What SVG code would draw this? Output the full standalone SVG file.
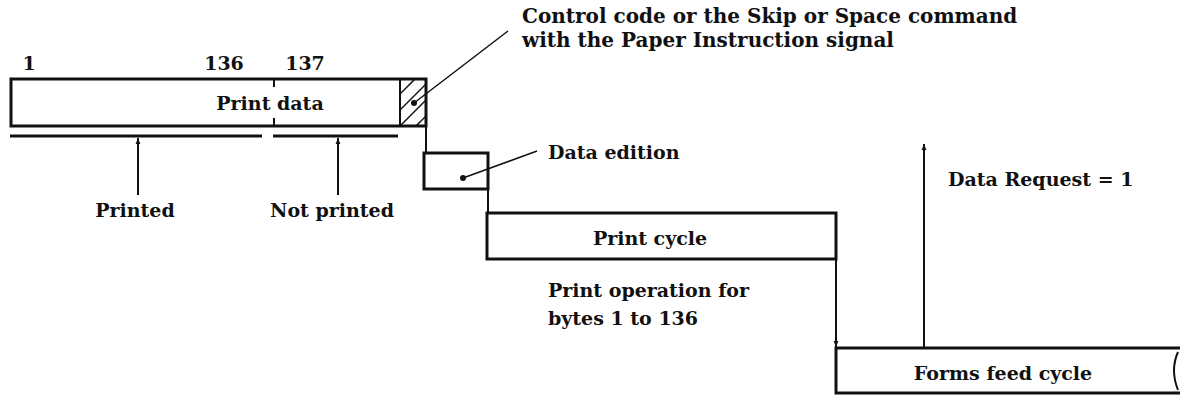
<svg xmlns="http://www.w3.org/2000/svg" width="1180" height="403" viewBox="0 0 1180 403">
<style>
text{font-family:"DejaVu Serif","Liberation Serif",serif;font-size:19px;font-weight:bold;fill:#111}
.big{font-size:20px}
.box{fill:none;stroke:#111;stroke-width:3}
.ln{fill:none;stroke:#111;stroke-width:2}
.thin{fill:none;stroke:#111;stroke-width:1.5}
.mid{text-anchor:middle}
</style>
<defs>
<marker id="ah" viewBox="0 0 10 10" refX="10" refY="5" markerWidth="9" markerHeight="6" orient="auto" markerUnits="userSpaceOnUse"><path d="M0,1 L10,5 L0,9 z" fill="#111"/></marker>
<marker id="dot" viewBox="0 0 10 10" refX="5" refY="5" markerWidth="6" markerHeight="6" markerUnits="userSpaceOnUse"><circle cx="5" cy="5" r="5" fill="#111"/></marker>
<clipPath id="hc"><rect x="400" y="79" width="26" height="47"/></clipPath>
</defs>
<g id="print-data">
<rect class="box" x="11" y="79" width="415" height="47"/>
<line class="ln" x1="274" y1="79" x2="274" y2="87"/>
<line class="ln" x1="274" y1="118" x2="274" y2="126"/>
<line class="ln" x1="400" y1="79" x2="400" y2="126"/>
<g clip-path="url(#hc)" class="thin">
<line x1="390" y1="136" x2="440" y2="86"/>
<line x1="390" y1="120" x2="440" y2="70"/>
<line x1="390" y1="104" x2="440" y2="54"/>
<line x1="390" y1="152" x2="440" y2="102"/>
</g>
<text x="29" y="70" class="mid">1</text>
<text x="224" y="70" class="mid">136</text>
<text x="305" y="70" class="mid">137</text>
<text x="270" y="110" class="mid">Print data</text>
</g>
<g id="data-edition">
<rect class="box" x="424" y="153" width="64" height="36"/>
</g>
<g id="print-cycle">
<rect class="box" x="487" y="213" width="349" height="46"/>
<text x="650" y="245" class="mid">Print cycle</text>
</g>
<g id="forms-feed">
<path class="box" d="M1180,348 H836 V393 H1180"/>
<path class="ln" d="M1178,352 Q1170,370 1178,390"/>
<text x="1003" y="380" class="mid">Forms feed cycle</text>
</g>
<g id="labels">
<text x="522" y="23" class="big">Control code or the Skip or Space command</text>
<text x="522" y="47" class="big">with the Paper Instruction signal</text>
<text x="548" y="159">Data edition</text>
<text x="135" y="217" class="mid">Printed</text>
<text x="332" y="217" class="mid">Not printed</text>
<text x="548" y="297">Print operation for</text>
<text x="548" y="325">bytes 1 to 136</text>
<text x="948" y="186">Data Request = 1</text>
</g>
<g id="connectors">
<line class="box" x1="10" y1="136" x2="262" y2="136"/>
<line class="box" x1="273" y1="136" x2="398" y2="136"/>
<line class="ln" x1="138" y1="195" x2="138" y2="138" marker-end="url(#ah)"/>
<line class="ln" x1="338" y1="195" x2="338" y2="138" marker-end="url(#ah)"/>
<line class="ln" x1="426" y1="126" x2="426" y2="153"/>
<line class="ln" x1="488" y1="189" x2="488" y2="213"/>
<line class="ln" x1="836" y1="259" x2="836" y2="347" marker-end="url(#ah)"/>
<line class="ln" x1="924" y1="347" x2="924" y2="144" marker-end="url(#ah)"/>
<line class="thin" x1="414" y1="103" x2="508" y2="31" marker-start="url(#dot)"/>
<line class="thin" x1="463" y1="178" x2="537" y2="151" marker-start="url(#dot)"/>
</g>
</svg>
